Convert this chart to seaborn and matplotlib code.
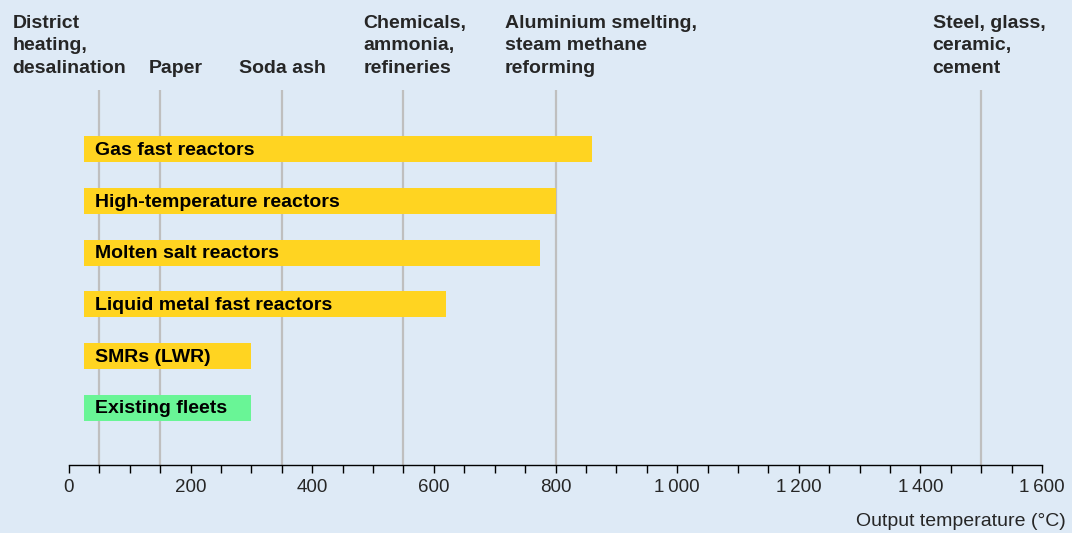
import pandas as pd
import seaborn as sns
import matplotlib.pyplot as plt

# ==== chart data
reactors = ["Gas fast reactors", "High-temperature reactors", "Molten salt reactors",
            "Liquid metal fast reactors", "SMRs (LWR)", "Existing fleets"]
temp_min = [25, 25, 25, 25, 25, 25]
temp_max = [860, 800, 775, 620, 300, 300]
group = ["new", "new", "new", "new", "new", "existing"]

uses = ["District\nheating,\ndesalination", "Paper", "Soda ash",
        "Chemicals,\nammonia,\nrefineries", "Aluminium smelting,\nsteam methane\nreforming",
        "Steel, glass,\nceramic,\ncement"]
use_temp = [50, 150, 350, 550, 800, 1500]
# where each label text starts (left edge), in data units
use_label_x = [-93, 131, 280, 484, 717, 1420]

x_ticks = [0, 200, 400, 600, 800, 1000, 1200, 1400, 1600]
x_ticklabels = ["0", "200", "400", "600", "800", "1\u2009000", "1\u2009200", "1\u2009400", "1\u2009600"]

data = pd.DataFrame({"reactor": reactors, "tmin": temp_min, "tmax": temp_max, "group": group})
data["span"] = data["tmax"] - data["tmin"]
colors = {"new": "#ffd421", "existing": "#69f596"}

bg = "#deeaf6"
sns.set_style("white")
plt.rcParams["font.family"] = ["Liberation Sans", "DejaVu Sans"]

fig = plt.figure(figsize=(10.72, 5.33), dpi=100, facecolor=bg)
ax = fig.add_axes([69 / 1072, (533 - 465) / 533, 973 / 1072, 375 / 533])
ax.set_facecolor(bg)

# gray reference lines for industrial uses
for t in use_temp:
    ax.axvline(t, color="#bfbfbf", lw=1.6, zorder=0)

# floating bars: one call per colour group
for g, sub in data.groupby("group", sort=False):
    sns.barplot(data=sub, y="reactor", x="span", left=sub["tmin"].to_numpy(),
                color=colors[g], saturation=1, width=0.5, orient="h",
                order=reactors, linewidth=0, ax=ax, zorder=2)

for i, name in enumerate(reactors):
    ax.text(temp_min[i] + 18, i + 0.02, name, va="center", ha="left",
            fontsize=14, fontweight="bold", color="black", zorder=3)

for lab, lx in zip(uses, use_label_x):
    ax.annotate(lab, xy=(lx, 1.0), xycoords=("data", "axes fraction"),
                xytext=(0, 12.5), textcoords="offset points",
                ha="left", va="baseline", fontsize=14, fontweight="bold",
                linespacing=1.42, annotation_clip=False)

ax.set_xlim(0, 1600)
ax.set_ylim(6.11, -1.15)
ax.set_xticks(x_ticks)
ax.set_xticklabels(x_ticklabels, fontsize=13.5)
ax.set_xticks(range(0, 1601, 50), minor=True)
ax.tick_params(axis="x", which="both", bottom=True, length=6, width=1, color="black", pad=4)
ax.set_yticks([])
ax.set_xlabel("")
ax.set_ylabel("")
for s in ["top", "left", "right"]:
    ax.spines[s].set_visible(False)
ax.spines["bottom"].set_color("black")
ax.spines["bottom"].set_linewidth(1)

fig.text(1066 / 1072, (533 - 521) / 533, "Output temperature (°C)",
         ha="right", va="center", fontsize=14)

fig.savefig("out.png", dpi=100, facecolor=bg)
